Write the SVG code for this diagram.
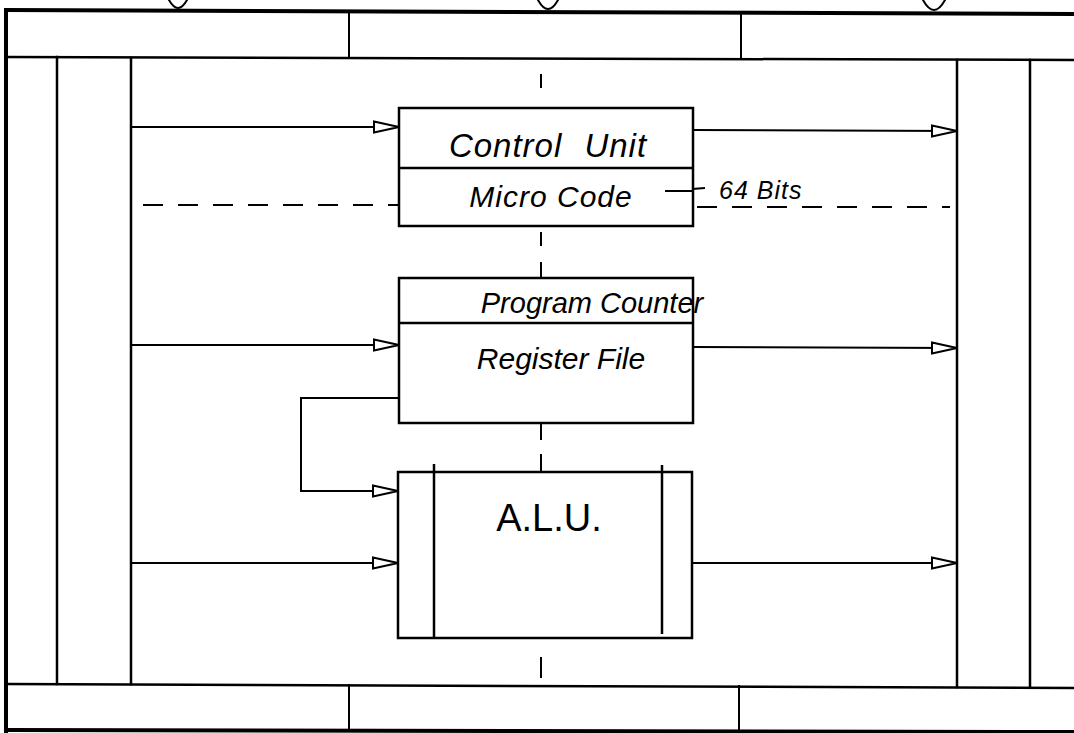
<svg xmlns="http://www.w3.org/2000/svg" width="1074" height="733" viewBox="0 0 1074 733">
<style>
.frame{stroke:#000;fill:none;stroke-linecap:square}
.thick{stroke-width:4}
.med{stroke-width:2.5}
.box{stroke:#000;stroke-width:2.5;fill:none}
.conn{stroke:#000;stroke-width:2;fill:none}
.dash{stroke:#000;stroke-width:2;fill:none;stroke-dasharray:20 15}
.axis{stroke:#000;stroke-width:2;fill:none}
.lbl{font-family:"Liberation Sans",Arial,sans-serif;fill:#000;font-style:italic}
.up{font-style:normal}
</style>
<defs>
<marker id="arr" markerWidth="28" markerHeight="14" refX="26" refY="7" orient="auto" markerUnits="userSpaceOnUse">
<path d="M1,1.5 L26,7 L1,12.5 Z" fill="#fff" stroke="#000" stroke-width="2"/>
</marker>
</defs>
<rect width="1074" height="733" fill="#fff"/>
<g id="frame">
<path class="frame thick" d="M6,10 L1074,14"/>
<path class="frame thick" d="M6,10 L6,731"/>
<path class="frame med" d="M6,57 L1074,60"/>
<path class="frame med" d="M6,684 L1074,688"/>
<path class="frame thick" d="M6,730 L1074,732"/>
<path class="frame" stroke-width="2" d="M349,11 L349,58 M741,12 L741,59"/>
<path class="frame" stroke-width="2" d="M349,685 L349,731 M739,686 L739,731"/>
<path class="frame" stroke-width="2.5" d="M57,57 L57,684 M131,58 L131,684"/>
<path class="frame" stroke-width="2.5" d="M957,60 L957,687 M1030,60 L1030,687"/>
<path class="frame" stroke-width="2" d="M169,0 Q178,16 187,0 M538,0 Q548,18 558,0 M923,0 Q934,20 945,0"/>
</g>
<g id="axis">
<path class="axis" d="M541,74 L541,88 M541,232 L541,246 M541,262 L541,277 M541,424 L541,440 M541,454 L541,471 M541,657 L541,678"/>
</g>
<g id="control-unit">
<rect class="box" x="399" y="108" width="294" height="118"/>
<line class="box" x1="399" y1="168" x2="693" y2="168"/>
<text class="lbl" x="548" y="157" font-size="33" text-anchor="middle" letter-spacing="1" word-spacing="12">Control  Unit</text>
<text class="lbl" x="551" y="207" font-size="30" text-anchor="middle" letter-spacing="1">Micro Code</text>
</g>
<g id="register-file">
<rect class="box" x="399" y="278" width="294" height="145"/>
<line class="box" x1="399" y1="323" x2="693" y2="323"/>
<text class="lbl" x="592" y="313" font-size="29" text-anchor="middle">Program Counter</text>
<text class="lbl" x="561" y="369" font-size="30" text-anchor="middle">Register File</text>
</g>
<g id="alu">
<rect class="box" x="398" y="472" width="294" height="166"/>
<line class="box" x1="434" y1="464" x2="434" y2="638"/>
<line class="box" x1="662" y1="465" x2="662" y2="634"/>
<text class="lbl up" x="549" y="531" font-size="38" text-anchor="middle">A.L.U.</text>
</g>
<g id="bits-label">
<path class="conn" d="M665,191 L692,191 M692,189 L705,188"/>
<text class="lbl" x="719" y="199" font-size="25" letter-spacing="1">64 Bits</text>
</g>
<g id="connectors">
<line class="conn" x1="131" y1="127" x2="399" y2="127" marker-end="url(#arr)"/>
<line class="conn" x1="693" y1="130" x2="957" y2="131" marker-end="url(#arr)"/>
<line class="dash" x1="143" y1="205" x2="399" y2="205"/>
<line class="dash" x1="697" y1="207" x2="950" y2="207"/>
<line class="conn" x1="131" y1="345" x2="399" y2="345" marker-end="url(#arr)"/>
<line class="conn" x1="693" y1="347" x2="957" y2="348" marker-end="url(#arr)"/>
<path class="conn" d="M399,398 L301,398 L301,491 L398,491" marker-end="url(#arr)"/>
<line class="conn" x1="131" y1="563" x2="398" y2="563" marker-end="url(#arr)"/>
<line class="conn" x1="692" y1="563" x2="957" y2="563" marker-end="url(#arr)"/>
</g>
</svg>
